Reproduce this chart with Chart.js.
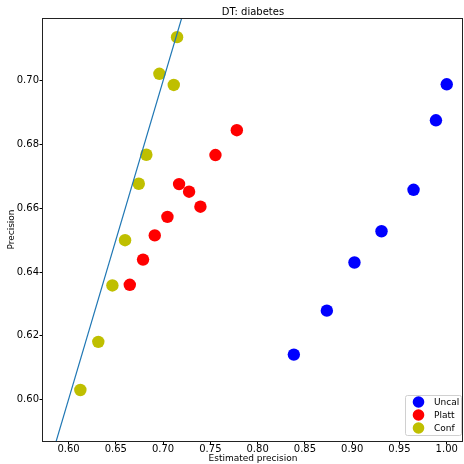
<!DOCTYPE html>
<html>
<head>
<meta charset="utf-8">
<script src="https://cdn.jsdelivr.net/npm/chart.js@4"></script>
<style>
  html, body { margin: 0; padding: 0; background: #fff; }
  #wrap { width: 464px; height: 464px; }
</style>
</head>
<body>
<div id="wrap"><canvas id="c" width="464" height="464"></canvas></div>
<script>
// Estimated vs. observed precision per calibration method
const uncalEst  = [1.000, 0.9886, 0.9649, 0.9310, 0.9024, 0.8732, 0.8383];
const uncalPrec = [0.6989, 0.6876, 0.6658, 0.6528, 0.6430, 0.6279, 0.6141];

const plattEst  = [0.6648, 0.6788, 0.6912, 0.7046, 0.7395, 0.7169, 0.7275, 0.7554, 0.7780];
const plattPrec = [0.6360, 0.6439, 0.6515, 0.6573, 0.6605, 0.6676, 0.6652, 0.6767, 0.6845];

const confEst   = [0.6125, 0.6315, 0.6464, 0.6598, 0.6743, 0.6823, 0.7113, 0.6961, 0.7148];
const confPrec  = [0.6030, 0.6181, 0.6358, 0.6500, 0.6677, 0.6768, 0.6987, 0.7022, 0.7137];

// Identity line y = x
const diagonal = [0.5, 0.8];

const xTicks = [0.60, 0.65, 0.70, 0.75, 0.80, 0.85, 0.90, 0.95, 1.00];
const yTicks = [0.60, 0.62, 0.64, 0.66, 0.68, 0.70];

const pts = (xs, ys) => xs.map((x, i) => ({ x: x, y: ys[i] }));

const FONT = 'DejaVu Sans';

// Full frame, title and legend box
const frame = {
  id: 'frame',
  afterDraw(chart) {
    const ctx = chart.ctx;
    const a = chart.chartArea;
    ctx.save();
    ctx.strokeStyle = '#222';
    ctx.lineWidth = 1;
    ctx.strokeRect(Math.round(a.left) - 0.5, Math.round(a.top) + 0.5,
                   Math.round(a.right - a.left), Math.round(a.bottom - a.top));
    // title
    ctx.fillStyle = '#000';
    ctx.font = '10px "' + FONT + '"';
    ctx.textAlign = 'center';
    ctx.textBaseline = 'alphabetic';
    ctx.fillText('DT: diabetes', (a.left + a.right) / 2, 15);
    // legend
    const entries = chart.data.datasets.filter(d => d.inLegend);
    const bw = 56, bh = 40;
    const bx = Math.round(a.right) - bw - 1.5, by = Math.round(a.bottom) - bh - 5.5;
    ctx.fillStyle = 'rgba(255,255,255,0.8)';
    ctx.strokeStyle = '#d0d0d0';
    ctx.lineWidth = 1;
    ctx.beginPath();
    ctx.roundRect(bx, by, bw, bh, 2);
    ctx.fill();
    ctx.stroke();
    ctx.font = '9px "' + FONT + '"';
    ctx.textAlign = 'left';
    ctx.textBaseline = 'middle';
    entries.forEach((d, i) => {
      const cy = by + 6.5 + i * 13;
      ctx.fillStyle = d.backgroundColor;
      ctx.beginPath();
      ctx.arc(bx + 13, cy, 5.8, 0, Math.PI * 2);
      ctx.fill();
      ctx.fillStyle = '#000';
      ctx.fillText(d.label, bx + 28.5, cy + 0.5);
    });
    ctx.restore();
  }
};

new Chart(document.getElementById('c'), {
  type: 'scatter',
  data: {
    datasets: [
      { label: 'diag', data: pts(diagonal, diagonal), showLine: true, borderColor: '#1f77b4',
        borderWidth: 1.2, pointRadius: 0, order: 0 },
      { label: 'Uncal', inLegend: true, data: pts(uncalEst, uncalPrec), backgroundColor: '#0000ff',
        pointRadius: 6.2, pointBorderWidth: 0, order: 3 },
      { label: 'Platt', inLegend: true, data: pts(plattEst, plattPrec), backgroundColor: '#ff0000',
        pointRadius: 6.2, pointBorderWidth: 0, order: 2 },
      { label: 'Conf', inLegend: true, data: pts(confEst, confPrec), backgroundColor: '#bfbf00',
        pointRadius: 6.2, pointBorderWidth: 0, order: 1 }
    ]
  },
  options: {
    responsive: false,
    animation: false,
    layout: { autoPadding: false, padding: { top: 18, right: 1, left: 0, bottom: 0 } },
    plugins: { legend: { display: false }, title: { display: false }, tooltip: { enabled: false } },
    scales: {
      x: {
        type: 'linear', min: 0.573, max: 1.0172,
        grid: { display: true, drawOnChartArea: false, drawTicks: true, tickLength: 3.5, color: '#000' },
        border: { display: false },
        ticks: { color: '#000', font: { family: FONT, size: 10 }, padding: -1,
                 callback: v => v.toFixed(2), maxRotation: 0, autoSkip: false },
        title: { display: true, text: 'Estimated precision', color: '#000', font: { family: FONT, size: 9 },
                 padding: { top: 0, bottom: 0 } },
        afterBuildTicks: s => { s.ticks = xTicks.map(v => ({ value: v })); },
        afterFit: s => { s.height = 23; s.paddingLeft = 0; s.paddingRight = 0; }
      },
      y: {
        type: 'linear', min: 0.5870, max: 0.7197,
        grid: { display: true, drawOnChartArea: false, drawTicks: true, tickLength: 3.5, color: '#000' },
        border: { display: false },
        ticks: { color: '#000', font: { family: FONT, size: 10 }, padding: 0.5,
                 callback: v => v.toFixed(2), autoSkip: false },
        title: { display: true, text: 'Precision', color: '#000', font: { family: FONT, size: 9 },
                 padding: { top: 6.5, bottom: 0 } },
        afterBuildTicks: s => { s.ticks = yTicks.map(v => ({ value: v })); },
        afterFit: s => { s.width = 43; s.paddingTop = 0; s.paddingBottom = 0; }
      }
    }
  },
  plugins: [frame]
});
</script>
</body>
</html>
